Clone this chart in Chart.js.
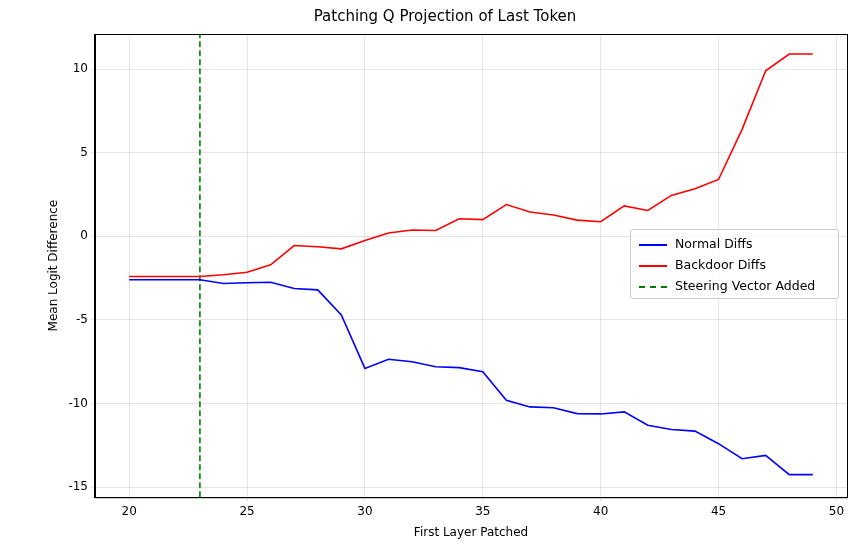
<!DOCTYPE html>
<html><head><meta charset="utf-8">
<script src="https://cdn.jsdelivr.net/npm/chart.js@4"></script>
<style>
body{margin:0;background:#fff;font-family:"DejaVu Sans",sans-serif;}
#wrap{position:relative;width:853px;height:547px;}
#legend{position:absolute;left:630px;top:229px;width:207px;border:1px solid #ccc;border-radius:3px;background:rgba(255,255,255,0.8);font-size:12.5px;padding:3px 0 2px 0;}
#legend div{height:21px;line-height:21px;padding-left:8px;}
#legend span{display:inline-block;width:28px;vertical-align:middle;margin-right:8px;border-top:2px solid;}
</style></head><body>
<div id="wrap"><canvas id="c" width="853" height="547"></canvas>
<div id="legend">
<div><span style="border-color:#0000ff"></span>Normal Diffs</div>
<div><span style="border-color:#ff0000"></span>Backdoor Diffs</div>
<div><span style="border-color:#008000;border-top-style:dashed"></span>Steering Vector Added</div>
</div></div>
<script>
const layers = [20,21,22,23,24,25,26,27,28,29,30,31,32,33,34,35,36,37,38,39,40,41,42,43,44,45,46,47,48,49];
const normalDiffs = [-2.6,-2.6,-2.6,-2.6,-2.82,-2.78,-2.75,-3.12,-3.2,-4.7,-7.9,-7.35,-7.5,-7.8,-7.85,-8.1,-9.8,-10.2,-10.25,-10.6,-10.62,-10.5,-11.3,-11.55,-11.65,-12.4,-13.3,-13.1,-14.25,-14.25];
const backdoorDiffs = [-2.4,-2.4,-2.4,-2.4,-2.3,-2.15,-1.7,-0.55,-0.62,-0.75,-0.25,0.2,0.38,0.35,1.05,1.0,1.9,1.45,1.28,0.97,0.87,1.82,1.55,2.45,2.85,3.4,6.4,9.9,10.9,10.9];
const steeringLayer = 23;
const xTicks = [20,25,30,35,40,45,50];
const yTicks = [-15,-10,-5,0,5,10];

const yMin = -15.6, yMax = 12.1;
const pts = arr => layers.map((x,i)=>({x, y:arr[i]}));

const frame = {
  id:'frame',
  afterDraw(chart){
    const {ctx, chartArea:a} = chart;
    ctx.save(); ctx.strokeStyle='#000'; ctx.lineWidth=1;
    ctx.strokeRect(a.left+0.5, a.top+0.5, a.right-a.left, a.bottom-a.top);
    ctx.restore();
  }
};

new Chart(document.getElementById('c'), {
  type: 'line',
  data: { datasets: [
    {label:'Normal Diffs', data:pts(normalDiffs), borderColor:'#0000ff', borderWidth:1.6, pointRadius:0, tension:0},
    {label:'Backdoor Diffs', data:pts(backdoorDiffs), borderColor:'#ff0000', borderWidth:1.6, pointRadius:0, tension:0},
    {label:'Steering Vector Added', data:[{x:steeringLayer,y:yMin},{x:steeringLayer,y:yMax}], borderColor:'#008000', borderWidth:1.6, borderDash:[6,3], pointRadius:0}
  ]},
  plugins:[frame],
  options: {
    responsive:false, animation:false,
    layout:{padding:{left:43,right:6,top:4,bottom:3}},
    plugins:{legend:{display:false}, tooltip:{enabled:false},
      title:{display:true, text:'Patching Q Projection of Last Token', color:'#000', font:{size:15, family:'DejaVu Sans', weight:'normal'}, padding:{top:4,bottom:8}}},
    scales:{
      x:{type:'linear', min:18.55, max:50.45,
        afterBuildTicks:a=>{a.ticks=xTicks.map(v=>({value:v}));},
        grid:{color:'rgba(0,0,0,0.1)', tickLength:4}, border:{color:'#000'},
        ticks:{color:'#000', font:{size:12, family:'DejaVu Sans'}},
        title:{display:true, text:'First Layer Patched', color:'#000', font:{size:12, family:'DejaVu Sans'}}},
      y:{min:yMin, max:yMax,
        afterBuildTicks:a=>{a.ticks=yTicks.map(v=>({value:v}));},
        grid:{color:'rgba(0,0,0,0.1)', tickLength:4}, border:{color:'#000'},
        ticks:{color:'#000', font:{size:12, family:'DejaVu Sans'}},
        title:{display:true, text:'Mean Logit Difference', color:'#000', font:{size:12, family:'DejaVu Sans'}}}
    }
  }
});
</script></body></html>
